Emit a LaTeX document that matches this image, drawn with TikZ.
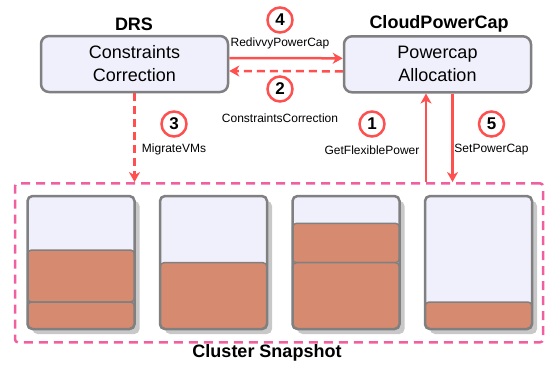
\documentclass[tikz,border=0pt]{standalone}
\usepackage{fontspec}
\setmainfont{Liberation Sans}
\usetikzlibrary{arrows.meta}
\definecolor{boxfill}{RGB}{240,240,252}
\definecolor{boxline}{RGB}{128,128,128}
\definecolor{arrred}{RGB}{255,80,80}
\definecolor{pinkd}{RGB}{240,95,160}
\definecolor{vmfill}{RGB}{214,139,112}
\definecolor{shadowc}{RGB}{200,200,200}
\begin{document}
\begin{tikzpicture}[x=1pt,y=-1pt,
  compbox/.style={draw=boxline, fill=boxfill, line width=2.5pt, rounded corners=8pt,
    minimum width=187pt, minimum height=56pt, align=center, inner sep=0pt,
    font=\fontsize{18}{23}\selectfont},
  title/.style={font=\bfseries\fontsize{18}{22}\selectfont},
  lbl/.style={font=\fontsize{12}{14}\selectfont},
  stepnum/.style={circle, draw=arrred, fill=white, line width=2.5pt, minimum size=25pt,
    inner sep=0pt, font=\bfseries\fontsize{17}{17}\selectfont},
  flow/.style={draw=arrred, line width=2.5pt, -{Stealth[length=10pt,width=11pt,inset=3pt]}},
  flowdash/.style={flow, dash pattern=on 8pt off 5pt},
  vm/.style={fill=vmfill, draw=boxline, line width=1.5pt, rounded corners=4pt},
  hostedge/.style={draw=boxline, line width=2.5pt, rounded corners=5pt}
]
\useasboundingbox (0,0) rectangle (545,368);

% cluster
\node[draw=pinkd, line width=2.5pt, dash pattern=on 9pt off 6pt, rounded corners=3pt,
  minimum width=528pt, minimum height=159pt, inner sep=0pt] (cluster) at (279,262.8) {};
\node[title] (cs) at (267,353) {Cluster Snapshot};

% hosts
\foreach \hx in {27.5,160,292.5,425} {
  \fill[shadowc, rounded corners=5pt] (\hx+5,201) rectangle (\hx+112,334);
  \fill[boxfill, rounded corners=5pt] (\hx,196) rectangle (\hx+107,329);
}
\path[vm] (27.5,250) rectangle (134.5,302);
\path[vm] (27.5,302) rectangle (134.5,329);
\path[vm] (160,262.7) rectangle (267,329);
\path[vm] (292.5,223.3) rectangle (399.5,262.7);
\path[vm] (292.5,262.7) rectangle (399.5,329);
\path[vm] (425,302) rectangle (532,329);
\foreach \hx in {27.5,160,292.5,425} {
  \path[hostedge] (\hx,196) rectangle (\hx+107,329);
}

% components
\node[compbox] (drs) at (134.5,64) {Constraints\\Correction};
\node[compbox] (cpc) at (437.5,64.3) {Powercap\\Allocation};
\node[title] (drsT) at (134,24) {DRS};
\node[title] (cpcT) at (439,24) {CloudPowerCap};

% arrows
\draw[flow] ([yshift=6pt]drs.east) -- ([yshift=6pt]cpc.west);
\draw[flowdash] ([yshift=-7pt]cpc.west) -- ([yshift=-7pt]drs.east);
\draw[flowdash] (drs.south) -- (drs.south |- cluster.north);
\coordinate (upS) at ([xshift=-11.5pt]cpc.south);
\coordinate (dnS) at ([xshift=15pt]cpc.south);
\draw[flow] (upS |- cluster.north) -- (upS);
\draw[flow] (dnS) -- (dnS |- cluster.north);

% step numbers and labels
\node[stepnum] (s4) at (280,20) {4};
\node[stepnum] (s2) at (280,89) {2};
\node[stepnum] (s3) at (174,124) {3};
\node[stepnum] (s1) at (372,124) {1};
\node[stepnum] (s5) at (491.5,124) {5};
\node[lbl] (l4) at (280,43) {RedivvyPowerCap};
\node[lbl] (l2) at (280,118) {ConstraintsCorrection};
\node[lbl] (l3) at (174,149) {MigrateVMs};
\node[lbl] (l1) at (372,150) {GetFlexiblePower};
\node[lbl] (l5) at (491.5,150) {SetPowerCap};
\end{tikzpicture}
\end{document}
